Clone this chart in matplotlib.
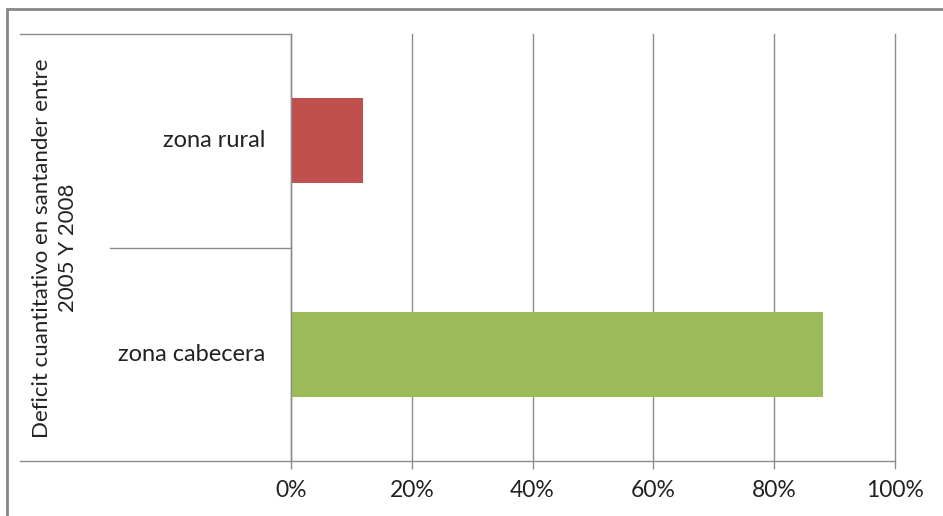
import matplotlib
matplotlib.use("Agg")
import matplotlib.pyplot as plt
from matplotlib.lines import Line2D
from matplotlib.patches import Rectangle
from matplotlib.ticker import PercentFormatter

categories = ["zona cabecera", "zona rural"]
values = [0.88, 0.12]
colors = ["#9BBB59", "#C0504D"]
group_label = "Deficit cuantitativo en santander entre\n2005 Y 2008"
xticks = [0, 0.2, 0.4, 0.6, 0.8, 1.0]

W, H = 943, 516
plt.rcParams["font.family"] = ["Lato", "DejaVu Sans"]
fig = plt.figure(figsize=(W / 100, H / 100), dpi=100)

def fx(px):
    return px / W

def fy(py):
    return 1 - py / H

grid_c = "#8C8C8C"
text_c = "#222222"

# outer frame (only top and left edges are visible)
fig.patches.append(Rectangle((fx(7), fy(H + 20)), fx(W + 20), fy(9) - fy(H + 20),
                             transform=fig.transFigure, fill=False,
                             edgecolor="#868686", lw=2))

ax = fig.add_axes([fx(291), fy(461), fx(895) - fx(291), fy(34) - fy(461)])
ax.barh(range(len(categories)), values, height=0.4, color=colors)
ax.set_xlim(0, 1)
ax.set_ylim(-0.5, len(categories) - 0.5)

ax.set_xticks(xticks)
ax.xaxis.set_major_formatter(PercentFormatter(1.0, decimals=0))
ax.grid(axis="x", color=grid_c, lw=1)
for gl in ax.get_xgridlines():
    gl.set_clip_on(False)
ax.set_axisbelow(True)
ax.tick_params(axis="x", length=6, width=1, color=grid_c, direction="out",
               labelsize=16.5, labelcolor=text_c, pad=8)
ax.set_yticks([])
for s in ax.spines.values():
    s.set_visible(False)
ax.spines["left"].set_visible(True)
ax.spines["left"].set_color(grid_c)
ax.spines["left"].set_linewidth(1)

for i, c in enumerate(categories):
    ax.text(-0.043, i, c, ha="right", va="center", fontsize=17,
            color=text_c, transform=ax.get_yaxis_transform())

# category axis lines
fig.lines.append(Line2D([fx(20), fx(291)], [fy(34), fy(34)], transform=fig.transFigure,
                        color=grid_c, lw=1))
fig.lines.append(Line2D([fx(110), fx(291)], [fy(248), fy(248)], transform=fig.transFigure,
                        color=grid_c, lw=1))
fig.lines.append(Line2D([fx(20), fx(895)], [fy(461), fy(461)], transform=fig.transFigure,
                        color=grid_c, lw=1))

fig.text(fx(55), fy(248), group_label, rotation=90, ha="center", va="center",
         fontsize=16, color=text_c, multialignment="center", linespacing=1.35)

fig.savefig("out.png", dpi=100)
